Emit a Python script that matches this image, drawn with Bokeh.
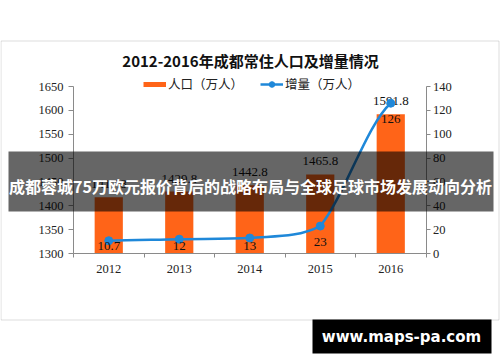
from bokeh.plotting import figure
from bokeh.models import (Range1d, LinearAxis, FixedTicker, BoxAnnotation, Label,
                          Legend, LegendItem, ColumnDataSource)
from bokeh.embed import file_html
from bokeh.resources import INLINE
from bokeh.core.properties import value
import numpy as np

# ---------------- data ----------------
years = ["2012", "2013", "2014", "2015", "2016"]
population = [1417.8, 1429.8, 1442.8, 1465.8, 1591.8]   # 人口（万人）
increase = [10.7, 12, 13, 23, 126]                       # 增量（万人）
left_ticks = [1300, 1350, 1400, 1450, 1500, 1550, 1600, 1650]
right_ticks = [0, 20, 40, 60, 80, 100, 120, 140]
title_text = "2012-2016年成都常住人口及增量情况"
legend_labels = ["人口（万人）", "增量（万人）"]
banner_text = "成都蓉城75万欧元报价背后的战略布局与全球足球市场发展动向分析"
site_text = "www.maps-pa.com"

# ---------------- style / layout ----------------
BAR = "#FF6418"
LINE = "#1F88D9"
AX = "#8a8a8a"
NUM_FONT = "Liberation Serif"
CJK = "Noto Sans CJK SC"
W, H = 500, 362
PL, PR, PT, PB = 73.0, 425.5, 86.0, 253.0     # plot-area edges on the canvas

n = len(years)
centers = [i + 0.5 for i in range(n)]

# ranges chosen so that the plot area lands at PL..PR / PT..PB of a full-canvas frame
xs_px = (PR - PL) / n
x_range = Range1d(-PL / xs_px, (W - PL) / xs_px)
lo_l, hi_l = left_ticks[0], left_ticks[-1]
ys_l = (PB - PT) / (hi_l - lo_l)
y_range = Range1d(lo_l - (H - PB) / ys_l, hi_l + PT / ys_l)
lo_r, hi_r = right_ticks[0], right_ticks[-1]
ys_r = (PB - PT) / (hi_r - lo_r)
y_right = Range1d(lo_r - (H - PB) / ys_r, hi_r + PT / ys_r)

p = figure(width=W, height=H, output_backend="svg", toolbar_location=None,
           x_range=x_range, y_range=y_range, min_border=0,
           min_border_left=0, min_border_right=0, min_border_top=0,
           min_border_bottom=0, title=None)
p.extra_y_ranges = {"right": y_right}
p.xgrid.visible = False
p.ygrid.visible = False
p.outline_line_color = None
p.background_fill_color = "white"
p.border_fill_color = "white"

def style_axis(ax):
    ax.axis_line_color = AX
    ax.major_tick_line_color = AX
    ax.minor_tick_line_color = None
    ax.major_tick_in = 0
    ax.major_tick_out = 5
    ax.major_label_text_font = NUM_FONT
    ax.major_label_text_font_size = "12.5px"
    ax.major_label_text_color = "#222222"
    ax.major_label_standoff = 5

ly = p.yaxis[0]
ly.ticker = FixedTicker(ticks=left_ticks)
ly.fixed_location = 0
ly.bounds = (lo_l, hi_l)
style_axis(ly)

ry = LinearAxis(y_range_name="right", ticker=FixedTicker(ticks=right_ticks),
                fixed_location=n, bounds=(lo_r, hi_r))
style_axis(ry)
ry.major_tick_out = 4
ry.major_label_standoff = 3
p.add_layout(ry, "right")

bx = p.xaxis[0]
bx.ticker = FixedTicker(ticks=centers, minor_ticks=list(range(n + 1)))
bx.major_label_overrides = {c: y for c, y in zip(centers, years)}
bx.fixed_location = lo_l
bx.bounds = (0, n)
style_axis(bx)
bx.major_tick_line_color = None
bx.major_tick_out = 0
bx.minor_tick_line_color = AX
bx.minor_tick_in = 0
bx.minor_tick_out = 4
bx.major_label_standoff = 7

# ---------------- bars ----------------
src = ColumnDataSource(dict(x=centers, pop=population, inc=increase,
                            pop_txt=[f"{v:.1f}" for v in population],
                            inc_txt=[f"{v:g}" for v in increase]))
p.vbar(x="x", top="pop", bottom=lo_l, width=0.4, source=src,
       fill_color=BAR, line_color=None)
p.text(x="x", y="pop", text="pop_txt", source=src, text_align="center",
       text_baseline="middle", y_offset=-13, text_font=value(NUM_FONT),
       text_font_size="13px", text_color="#111111")

# ---------------- smoothed line (Bezier segments through the data points) ----------------
xs = np.array(centers, dtype=float)
ys = np.array(increase, dtype=float)
sec = np.diff(ys) / np.diff(xs)                       # slopes of the segments
seg_len = np.hypot(np.diff(xs) * xs_px, np.diff(ys) * ys_r)
tan = np.empty(n)
tan[0], tan[-1] = sec[0] / 2, sec[-1] / 2
for i in range(1, n - 1):
    tan[i] = (seg_len[i - 1] * sec[i - 1] + seg_len[i] * sec[i]) / (seg_len[i - 1] + seg_len[i])
h = np.diff(xs) / 3
cx0, cy0 = xs[:-1] + h, ys[:-1] + tan[:-1] * h
cx1, cy1 = xs[1:] - h, ys[1:] - tan[1:] * h
lo_seg, hi_seg = np.minimum(ys[:-1], ys[1:]), np.maximum(ys[:-1], ys[1:])
cy0, cy1 = np.clip(cy0, lo_seg, hi_seg), np.clip(cy1, lo_seg, hi_seg)
p.bezier(x0=xs[:-1], y0=ys[:-1], x1=xs[1:], y1=ys[1:],
         cx0=cx0, cy0=cy0, cx1=cx1, cy1=cy1,
         y_range_name="right", line_color=LINE, line_width=2.5)
marks = p.scatter(x="x", y="inc", source=src, y_range_name="right",
                  size=8, fill_color=LINE, line_color=LINE)

src.data["inc_lab_y"] = [max(v - 16 / ys_r, 7.8 / ys_r) for v in increase]
p.text(x="x", y="inc_lab_y", text="inc_txt", source=src, y_range_name="right",
       text_align="center", text_baseline="middle", text_font=value(NUM_FONT),
       text_font_size="13px", text_color="#111111")

# ---------------- legend (single-point line renderers only serve as legend swatches) ----------------
leg_pop = p.line(x=centers[:1], y=population[:1], line_color=BAR, line_width=5)
leg_inc = p.line(x=centers[:1], y=increase[:1], y_range_name="right",
                 line_color=LINE, line_width=2.5)
legend = Legend(items=[LegendItem(label=legend_labels[0], renderers=[leg_pop]),
                       LegendItem(label=legend_labels[1], renderers=[leg_inc, marks])],
                orientation="horizontal", location=(143, H - 93),
                padding=0, margin=0, spacing=17, label_standoff=2,
                glyph_width=23, glyph_height=14, label_height=14,
                background_fill_alpha=0, border_line_color=None,
                label_text_font=CJK, label_text_font_size="12.5px",
                label_text_color="#222222")
p.add_layout(legend)

# ---------------- frame, title, overlays ----------------
def canvas_box(l, r, t, b, **kw):
    return BoxAnnotation(left=l, right=r, top=t, bottom=b,
                         left_units="canvas", right_units="canvas",
                         top_units="canvas", bottom_units="canvas", **kw)

p.add_layout(canvas_box(0.5, 498.5, 40.5, 319.5, fill_alpha=0,
                        line_color="#8c8c8c", line_width=1))
p.add_layout(Label(x=250, y=60, x_units="canvas", y_units="canvas", text=title_text,
                   text_align="center", text_baseline="middle", text_font=CJK,
                   text_font_style="bold", text_font_size="15px", text_color="#111111"))

p.add_layout(canvas_box(8, 493, 151, 211, fill_color="black", fill_alpha=0.6,
                        line_color=None))
p.add_layout(Label(x=250, y=185, x_units="canvas", y_units="canvas", text=banner_text,
                   text_align="center", text_baseline="middle", text_font=CJK,
                   text_font_style="bold", text_font_size="16px", text_color="white"))

p.add_layout(canvas_box(312, 491, 319, 353, fill_color="black", fill_alpha=1,
                        line_color=None))
p.add_layout(Label(x=401, y=336, x_units="canvas", y_units="canvas", text=site_text,
                   text_align="center", text_baseline="middle", text_font="DejaVu Sans",
                   text_font_style="bold", text_font_size="15px", text_color="white"))

open("out.html", "w").write(file_html(p, INLINE))
